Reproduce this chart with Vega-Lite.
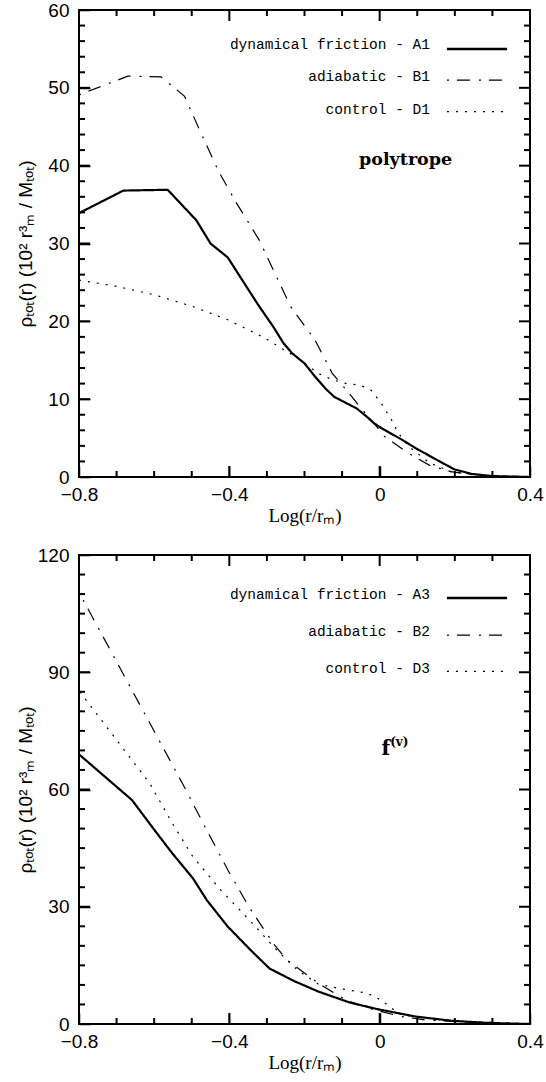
{
  "$schema": "https://vega.github.io/schema/vega-lite/v6.json",
  "background": "white",
  "padding": {"left": 15, "top": 0, "right": 0, "bottom": 0},
  "bounds": "flush",
  "spacing": 78,
  "config": {
    "view": {"stroke": "black", "strokeWidth": 2},
    "axis": {"labelFont": "Liberation Sans", "labelFontSize": 19, "labelColor": "black", "titleColor": "black", "domain": false, "grid": false, "ticks": true, "tickColor": "#000000", "tickOpacity": 1, "tickWidth": 1.5, "labelFlush": false, "labelOverlap": false},
    "text": {"color": "black"}
  },
  "datasets": {
    "xmajor": [{"v": -0.8}, {"v": -0.4}, {"v": 0}, {"v": 0.4}],
    "xminor": [{"v": -0.7}, {"v": -0.6}, {"v": -0.5}, {"v": -0.3}, {"v": -0.2}, {"v": -0.1}, {"v": 0.1}, {"v": 0.2}, {"v": 0.3}],
    "ymajor60": [{"v": 10}, {"v": 20}, {"v": 30}, {"v": 40}, {"v": 50}],
    "yminor60": [{"v": 2}, {"v": 4}, {"v": 6}, {"v": 8}, {"v": 12}, {"v": 14}, {"v": 16}, {"v": 18}, {"v": 22}, {"v": 24}, {"v": 26}, {"v": 28}, {"v": 32}, {"v": 34}, {"v": 36}, {"v": 38}, {"v": 42}, {"v": 44}, {"v": 46}, {"v": 48}, {"v": 52}, {"v": 54}, {"v": 56}, {"v": 58}],
    "ymajor120": [{"v": 30}, {"v": 60}, {"v": 90}],
    "yminor120": [{"v": 5}, {"v": 10}, {"v": 15}, {"v": 20}, {"v": 25}, {"v": 35}, {"v": 40}, {"v": 45}, {"v": 50}, {"v": 55}, {"v": 65}, {"v": 70}, {"v": 75}, {"v": 80}, {"v": 85}, {"v": 95}, {"v": 100}, {"v": 105}, {"v": 110}, {"v": 115}],
    "top": [
      {"logr": -0.8, "rho": 33.9, "run": "dynamical friction - A1"},
      {"logr": -0.682, "rho": 36.8, "run": "dynamical friction - A1"},
      {"logr": -0.564, "rho": 36.9, "run": "dynamical friction - A1"},
      {"logr": -0.488, "rho": 33.0, "run": "dynamical friction - A1"},
      {"logr": -0.45, "rho": 30.0, "run": "dynamical friction - A1"},
      {"logr": -0.404, "rho": 28.2, "run": "dynamical friction - A1"},
      {"logr": -0.367, "rho": 25.4, "run": "dynamical friction - A1"},
      {"logr": -0.323, "rho": 22.1, "run": "dynamical friction - A1"},
      {"logr": -0.283, "rho": 19.3, "run": "dynamical friction - A1"},
      {"logr": -0.256, "rho": 17.2, "run": "dynamical friction - A1"},
      {"logr": -0.233, "rho": 15.9, "run": "dynamical friction - A1"},
      {"logr": -0.2, "rho": 14.6, "run": "dynamical friction - A1"},
      {"logr": -0.172, "rho": 12.9, "run": "dynamical friction - A1"},
      {"logr": -0.145, "rho": 11.4, "run": "dynamical friction - A1"},
      {"logr": -0.121, "rho": 10.3, "run": "dynamical friction - A1"},
      {"logr": -0.089, "rho": 9.5, "run": "dynamical friction - A1"},
      {"logr": -0.061, "rho": 8.8, "run": "dynamical friction - A1"},
      {"logr": -0.033, "rho": 7.7, "run": "dynamical friction - A1"},
      {"logr": -0.015, "rho": 6.9, "run": "dynamical friction - A1"},
      {"logr": 0.004, "rho": 6.3, "run": "dynamical friction - A1"},
      {"logr": 0.059, "rho": 4.8, "run": "dynamical friction - A1"},
      {"logr": 0.096, "rho": 3.7, "run": "dynamical friction - A1"},
      {"logr": 0.152, "rho": 2.2, "run": "dynamical friction - A1"},
      {"logr": 0.198, "rho": 1.0, "run": "dynamical friction - A1"},
      {"logr": 0.244, "rho": 0.4, "run": "dynamical friction - A1"},
      {"logr": 0.3, "rho": 0.12, "run": "dynamical friction - A1"},
      {"logr": 0.4, "rho": 0.0, "run": "dynamical friction - A1"},
      {"logr": -0.8, "rho": 49.1, "run": "adiabatic - B1"},
      {"logr": -0.67, "rho": 51.5, "run": "adiabatic - B1"},
      {"logr": -0.581, "rho": 51.4, "run": "adiabatic - B1"},
      {"logr": -0.519, "rho": 48.9, "run": "adiabatic - B1"},
      {"logr": -0.483, "rho": 45.0, "run": "adiabatic - B1"},
      {"logr": -0.43, "rho": 39.4, "run": "adiabatic - B1"},
      {"logr": -0.386, "rho": 35.6, "run": "adiabatic - B1"},
      {"logr": -0.32, "rho": 30.4, "run": "adiabatic - B1"},
      {"logr": -0.237, "rho": 21.9, "run": "adiabatic - B1"},
      {"logr": -0.172, "rho": 17.6, "run": "adiabatic - B1"},
      {"logr": -0.126, "rho": 13.3, "run": "adiabatic - B1"},
      {"logr": -0.089, "rho": 11.2, "run": "adiabatic - B1"},
      {"logr": -0.052, "rho": 9.0, "run": "adiabatic - B1"},
      {"logr": -0.015, "rho": 6.9, "run": "adiabatic - B1"},
      {"logr": 0.013, "rho": 5.2, "run": "adiabatic - B1"},
      {"logr": 0.078, "rho": 3.0, "run": "adiabatic - B1"},
      {"logr": 0.133, "rho": 1.5, "run": "adiabatic - B1"},
      {"logr": 0.189, "rho": 0.7, "run": "adiabatic - B1"},
      {"logr": 0.26, "rho": 0.2, "run": "adiabatic - B1"},
      {"logr": 0.4, "rho": 0.0, "run": "adiabatic - B1"},
      {"logr": -0.8, "rho": 25.3, "run": "control - D1"},
      {"logr": -0.7, "rho": 24.5, "run": "control - D1"},
      {"logr": -0.599, "rho": 23.4, "run": "control - D1"},
      {"logr": -0.497, "rho": 21.9, "run": "control - D1"},
      {"logr": -0.404, "rho": 20.2, "run": "control - D1"},
      {"logr": -0.311, "rho": 18.0, "run": "control - D1"},
      {"logr": -0.219, "rho": 15.3, "run": "control - D1"},
      {"logr": -0.163, "rho": 13.3, "run": "control - D1"},
      {"logr": -0.126, "rho": 12.5, "run": "control - D1"},
      {"logr": -0.089, "rho": 12.0, "run": "control - D1"},
      {"logr": -0.052, "rho": 11.8, "run": "control - D1"},
      {"logr": -0.024, "rho": 11.2, "run": "control - D1"},
      {"logr": 0.004, "rho": 9.5, "run": "control - D1"},
      {"logr": 0.032, "rho": 7.3, "run": "control - D1"},
      {"logr": 0.05, "rho": 5.6, "run": "control - D1"},
      {"logr": 0.078, "rho": 3.9, "run": "control - D1"},
      {"logr": 0.133, "rho": 1.8, "run": "control - D1"},
      {"logr": 0.189, "rho": 0.7, "run": "control - D1"},
      {"logr": 0.282, "rho": 0.15, "run": "control - D1"},
      {"logr": 0.4, "rho": 0.0, "run": "control - D1"}
    ],
    "bottom": [
      {"logr": -0.8, "rho": 69.0, "run": "dynamical friction - A3"},
      {"logr": -0.659, "rho": 57.3, "run": "dynamical friction - A3"},
      {"logr": -0.599, "rho": 49.6, "run": "dynamical friction - A3"},
      {"logr": -0.552, "rho": 43.7, "run": "dynamical friction - A3"},
      {"logr": -0.497, "rho": 37.3, "run": "dynamical friction - A3"},
      {"logr": -0.46, "rho": 31.7, "run": "dynamical friction - A3"},
      {"logr": -0.404, "rho": 24.9, "run": "dynamical friction - A3"},
      {"logr": -0.339, "rho": 18.5, "run": "dynamical friction - A3"},
      {"logr": -0.293, "rho": 14.2, "run": "dynamical friction - A3"},
      {"logr": -0.228, "rho": 11.0, "run": "dynamical friction - A3"},
      {"logr": -0.163, "rho": 8.3, "run": "dynamical friction - A3"},
      {"logr": -0.08, "rho": 5.5, "run": "dynamical friction - A3"},
      {"logr": -0.006, "rho": 3.8, "run": "dynamical friction - A3"},
      {"logr": 0.096, "rho": 1.9, "run": "dynamical friction - A3"},
      {"logr": 0.189, "rho": 0.85, "run": "dynamical friction - A3"},
      {"logr": 0.282, "rho": 0.3, "run": "dynamical friction - A3"},
      {"logr": 0.4, "rho": 0.0, "run": "dynamical friction - A3"},
      {"logr": -0.789, "rho": 108.5, "run": "adiabatic - B2"},
      {"logr": -0.525, "rho": 61.6, "run": "adiabatic - B2"},
      {"logr": -0.46, "rho": 49.6, "run": "adiabatic - B2"},
      {"logr": -0.404, "rho": 39.4, "run": "adiabatic - B2"},
      {"logr": -0.348, "rho": 30.0, "run": "adiabatic - B2"},
      {"logr": -0.283, "rho": 20.6, "run": "adiabatic - B2"},
      {"logr": -0.247, "rho": 16.4, "run": "adiabatic - B2"},
      {"logr": -0.163, "rho": 10.4, "run": "adiabatic - B2"},
      {"logr": -0.089, "rho": 6.1, "run": "adiabatic - B2"},
      {"logr": -0.015, "rho": 3.6, "run": "adiabatic - B2"},
      {"logr": 0.059, "rho": 1.9, "run": "adiabatic - B2"},
      {"logr": 0.124, "rho": 1.0, "run": "adiabatic - B2"},
      {"logr": 0.282, "rho": 0.25, "run": "adiabatic - B2"},
      {"logr": 0.4, "rho": 0.0, "run": "adiabatic - B2"},
      {"logr": -0.798, "rho": 85.0, "run": "control - D3"},
      {"logr": -0.612, "rho": 61.6, "run": "control - D3"},
      {"logr": -0.552, "rho": 51.4, "run": "control - D3"},
      {"logr": -0.497, "rho": 42.8, "run": "control - D3"},
      {"logr": -0.423, "rho": 34.3, "run": "control - D3"},
      {"logr": -0.339, "rho": 25.8, "run": "control - D3"},
      {"logr": -0.274, "rho": 18.9, "run": "control - D3"},
      {"logr": -0.219, "rho": 13.8, "run": "control - D3"},
      {"logr": -0.163, "rho": 10.2, "run": "control - D3"},
      {"logr": -0.108, "rho": 9.1, "run": "control - D3"},
      {"logr": -0.033, "rho": 7.9, "run": "control - D3"},
      {"logr": 0.004, "rho": 6.1, "run": "control - D3"},
      {"logr": 0.05, "rho": 2.7, "run": "control - D3"},
      {"logr": 0.096, "rho": 1.7, "run": "control - D3"},
      {"logr": 0.189, "rho": 0.85, "run": "control - D3"},
      {"logr": 0.4, "rho": 0.0, "run": "control - D3"}
    ]
  },
  "vconcat": [
    {
      "width": 451,
      "height": 467,
      "resolve": {"axis": {"x": "independent", "y": "independent"}},
      "layer": [
        {
          "data": {"name": "top"},
          "mark": {"type": "line", "color": "black", "clip": true, "strokeCap": "butt"},
          "encoding": {
            "x": {"field": "logr", "type": "quantitative", "scale": {"domain": [-0.8, 0.4], "nice": false, "zero": false},
              "axis": {"orient": "bottom", "offset": -11, "tickSize": 11, "values": [-0.8, -0.4, 0, 0.4],
                "title": "Log(r/rₘ)", "titleFont": "Liberation Serif", "titleFontSize": 19, "titleFontWeight": "normal", "titlePadding": 2,
                "labelPadding": 8,
                "labelExpr": "datum.value === 0 ? '0' : datum.label"}},
            "y": {"field": "rho", "type": "quantitative", "scale": {"domain": [0, 60], "nice": false},
              "axis": {"orient": "left", "offset": -11, "tickSize": 11, "values": [0, 10, 20, 30, 40, 50, 60],
                "title": "ρₜₒₜ(r)  (10²  r³ₘ  /  Mₜₒₜ)", "titleFont": "Liberation Sans", "titleFontSize": 19, "titleFontWeight": "normal", "titleX": -55,
                "labelPadding": 10}},
            "strokeDash": {"field": "run", "type": "nominal",
              "scale": {"domain": ["dynamical friction - A1", "adiabatic - B1", "control - D1"], "range": [[1, 0], [2, 8, 13, 9], [2, 7]]},
              "legend": null},
            "strokeWidth": {"condition": {"test": "datum.run === 'dynamical friction - A1'", "value": 2.2}, "value": 1.2}
          }
        },
        {
          "data": {"values": [{"note": "polytrope"}]},
          "mark": {"type": "text", "font": "DejaVu Serif", "fontWeight": "bold", "fontSize": 17.5, "align": "center", "baseline": "middle"},
          "encoding": {
            "text": {"field": "note"},
            "x": {"datum": 0.069, "type": "quantitative", "axis": null},
            "y": {"datum": 40.7, "type": "quantitative", "axis": null}
          }
        },
        {"data": {"name": "xmajor"}, "mark": {"type": "rule", "color": "black", "strokeWidth": 2},
          "encoding": {"x": {"field": "v", "type": "quantitative", "axis": null}, "y": {"datum": 0, "type": "quantitative", "axis": null}, "y2": {"datum": 1.413}}},
        {"data": {"name": "xmajor"}, "mark": {"type": "rule", "color": "black", "strokeWidth": 2},
          "encoding": {"x": {"field": "v", "type": "quantitative", "axis": null}, "y": {"datum": 60, "type": "quantitative", "axis": null}, "y2": {"datum": 58.587}}},
        {"data": {"name": "xminor"}, "mark": {"type": "rule", "color": "black", "strokeWidth": 2},
          "encoding": {"x": {"field": "v", "type": "quantitative", "axis": null}, "y": {"datum": 0, "type": "quantitative", "axis": null}, "y2": {"datum": 0.771}}},
        {"data": {"name": "xminor"}, "mark": {"type": "rule", "color": "black", "strokeWidth": 2},
          "encoding": {"x": {"field": "v", "type": "quantitative", "axis": null}, "y": {"datum": 60, "type": "quantitative", "axis": null}, "y2": {"datum": 59.229}}},
        {"data": {"name": "ymajor60"}, "mark": {"type": "rule", "color": "black", "strokeWidth": 2},
          "encoding": {"y": {"field": "v", "type": "quantitative", "axis": null}, "x": {"datum": -0.8, "type": "quantitative", "axis": null}, "x2": {"datum": -0.7707}}},
        {"data": {"name": "ymajor60"}, "mark": {"type": "rule", "color": "black", "strokeWidth": 2},
          "encoding": {"y": {"field": "v", "type": "quantitative", "axis": null}, "x": {"datum": 0.4, "type": "quantitative", "axis": null}, "x2": {"datum": 0.3707}}},
        {"data": {"name": "yminor60"}, "mark": {"type": "rule", "color": "black", "strokeWidth": 2},
          "encoding": {"y": {"field": "v", "type": "quantitative", "axis": null}, "x": {"datum": -0.8, "type": "quantitative", "axis": null}, "x2": {"datum": -0.784}}},
        {"data": {"name": "yminor60"}, "mark": {"type": "rule", "color": "black", "strokeWidth": 2},
          "encoding": {"y": {"field": "v", "type": "quantitative", "axis": null}, "x": {"datum": 0.4, "type": "quantitative", "axis": null}, "x2": {"datum": 0.384}}},
        {
          "data": {"values": [{"run": "dynamical friction - A1"}]},
          "mark": {"type": "rule", "color": "black", "strokeWidth": 2.4, "strokeCap": "butt"},
          "encoding": {
            "x": {"datum": 0.179, "type": "quantitative", "axis": null},
            "x2": {"datum": 0.339},
            "y": {"datum": 54.99, "type": "quantitative", "axis": null},
            "strokeDash": {"field": "run", "type": "nominal", "legend": null}
          }
        },
        {
          "data": {"values": [{"run": "adiabatic - B1"}]},
          "mark": {"type": "rule", "color": "black", "strokeWidth": 1.2, "strokeCap": "butt"},
          "encoding": {
            "x": {"datum": 0.179, "type": "quantitative", "axis": null},
            "x2": {"datum": 0.339},
            "y": {"datum": 51.0, "type": "quantitative", "axis": null},
            "strokeDash": {"field": "run", "type": "nominal", "legend": null}
          }
        },
        {
          "data": {"values": [{"run": "control - D1"}]},
          "mark": {"type": "rule", "color": "black", "strokeWidth": 1.2, "strokeCap": "butt"},
          "encoding": {
            "x": {"datum": 0.179, "type": "quantitative", "axis": null},
            "x2": {"datum": 0.339},
            "y": {"datum": 46.94, "type": "quantitative", "axis": null},
            "strokeDash": {"field": "run", "type": "nominal", "legend": null}
          }
        },
        {
          "data": {"values": [{"run": "dynamical friction - A1"}]},
          "mark": {"type": "text", "font": "Liberation Mono", "fontSize": 14.5, "align": "right", "baseline": "alphabetic"},
          "encoding": {
            "text": {"field": "run"},
            "x": {"datum": 0.134, "type": "quantitative", "axis": null},
            "y": {"datum": 54.95, "type": "quantitative", "axis": null}
          }
        },
        {
          "data": {"values": [{"run": "adiabatic - B1"}]},
          "mark": {"type": "text", "font": "Liberation Mono", "fontSize": 14.5, "align": "right", "baseline": "alphabetic"},
          "encoding": {
            "text": {"field": "run"},
            "x": {"datum": 0.134, "type": "quantitative", "axis": null},
            "y": {"datum": 50.92, "type": "quantitative", "axis": null}
          }
        },
        {
          "data": {"values": [{"run": "control - D1"}]},
          "mark": {"type": "text", "font": "Liberation Mono", "fontSize": 14.5, "align": "right", "baseline": "alphabetic"},
          "encoding": {
            "text": {"field": "run"},
            "x": {"datum": 0.134, "type": "quantitative", "axis": null},
            "y": {"datum": 46.64, "type": "quantitative", "axis": null}
          }
        }
      ]
    },
    {
      "width": 451,
      "height": 469,
      "resolve": {"axis": {"x": "independent", "y": "independent"}},
      "layer": [
        {
          "data": {"name": "bottom"},
          "mark": {"type": "line", "color": "black", "clip": true, "strokeCap": "butt"},
          "encoding": {
            "x": {"field": "logr", "type": "quantitative", "scale": {"domain": [-0.8, 0.4], "nice": false, "zero": false},
              "axis": {"orient": "bottom", "offset": -11, "tickSize": 11, "values": [-0.8, -0.4, 0, 0.4],
                "title": "Log(r/rₘ)", "titleFont": "Liberation Serif", "titleFontSize": 19, "titleFontWeight": "normal", "titlePadding": 2,
                "labelPadding": 8,
                "labelExpr": "datum.value === 0 ? '0' : datum.label"}},
            "y": {"field": "rho", "type": "quantitative", "scale": {"domain": [0, 120], "nice": false},
              "axis": {"orient": "left", "offset": -11, "tickSize": 11, "values": [0, 30, 60, 90, 120],
                "title": "ρₜₒₜ(r)  (10²  r³ₘ  /  Mₜₒₜ)", "titleFont": "Liberation Sans", "titleFontSize": 19, "titleFontWeight": "normal", "titleX": -55,
                "labelPadding": 10}},
            "strokeDash": {"field": "run", "type": "nominal",
              "scale": {"domain": ["dynamical friction - A3", "adiabatic - B2", "control - D3"], "range": [[1, 0], [2, 8, 13, 9], [2, 7]]},
              "legend": null},
            "strokeWidth": {"condition": {"test": "datum.run === 'dynamical friction - A3'", "value": 2.2}, "value": 1.2}
          }
        },
        {
          "data": {"values": [{"note": "f"}]},
          "mark": {"type": "text", "font": "DejaVu Serif", "fontWeight": "bold", "fontSize": 20, "align": "center", "baseline": "alphabetic"},
          "encoding": {
            "text": {"field": "note"},
            "x": {"datum": 0.016, "type": "quantitative", "axis": null},
            "y": {"datum": 68.8, "type": "quantitative", "axis": null}
          }
        },
        {
          "data": {"values": [{"note": "(v)"}]},
          "mark": {"type": "text", "font": "DejaVu Serif", "fontWeight": "bold", "fontSize": 12, "align": "left", "baseline": "alphabetic"},
          "encoding": {
            "text": {"field": "note"},
            "x": {"datum": 0.028, "type": "quantitative", "axis": null},
            "y": {"datum": 71.1, "type": "quantitative", "axis": null}
          }
        },
        {"data": {"name": "xmajor"}, "mark": {"type": "rule", "color": "black", "strokeWidth": 2},
          "encoding": {"x": {"field": "v", "type": "quantitative", "axis": null}, "y": {"datum": 0, "type": "quantitative", "axis": null}, "y2": {"datum": 2.815}}},
        {"data": {"name": "xmajor"}, "mark": {"type": "rule", "color": "black", "strokeWidth": 2},
          "encoding": {"x": {"field": "v", "type": "quantitative", "axis": null}, "y": {"datum": 120, "type": "quantitative", "axis": null}, "y2": {"datum": 117.185}}},
        {"data": {"name": "xminor"}, "mark": {"type": "rule", "color": "black", "strokeWidth": 2},
          "encoding": {"x": {"field": "v", "type": "quantitative", "axis": null}, "y": {"datum": 0, "type": "quantitative", "axis": null}, "y2": {"datum": 1.535}}},
        {"data": {"name": "xminor"}, "mark": {"type": "rule", "color": "black", "strokeWidth": 2},
          "encoding": {"x": {"field": "v", "type": "quantitative", "axis": null}, "y": {"datum": 120, "type": "quantitative", "axis": null}, "y2": {"datum": 118.465}}},
        {"data": {"name": "ymajor120"}, "mark": {"type": "rule", "color": "black", "strokeWidth": 2},
          "encoding": {"y": {"field": "v", "type": "quantitative", "axis": null}, "x": {"datum": -0.8, "type": "quantitative", "axis": null}, "x2": {"datum": -0.7707}}},
        {"data": {"name": "ymajor120"}, "mark": {"type": "rule", "color": "black", "strokeWidth": 2},
          "encoding": {"y": {"field": "v", "type": "quantitative", "axis": null}, "x": {"datum": 0.4, "type": "quantitative", "axis": null}, "x2": {"datum": 0.3707}}},
        {"data": {"name": "yminor120"}, "mark": {"type": "rule", "color": "black", "strokeWidth": 2},
          "encoding": {"y": {"field": "v", "type": "quantitative", "axis": null}, "x": {"datum": -0.8, "type": "quantitative", "axis": null}, "x2": {"datum": -0.784}}},
        {"data": {"name": "yminor120"}, "mark": {"type": "rule", "color": "black", "strokeWidth": 2},
          "encoding": {"y": {"field": "v", "type": "quantitative", "axis": null}, "x": {"datum": 0.4, "type": "quantitative", "axis": null}, "x2": {"datum": 0.384}}},
        {
          "data": {"values": [{"run": "dynamical friction - A3"}]},
          "mark": {"type": "rule", "color": "black", "strokeWidth": 2.4, "strokeCap": "butt"},
          "encoding": {
            "x": {"datum": 0.179, "type": "quantitative", "axis": null},
            "x2": {"datum": 0.339},
            "y": {"datum": 109.0, "type": "quantitative", "axis": null},
            "strokeDash": {"field": "run", "type": "nominal", "legend": null}
          }
        },
        {
          "data": {"values": [{"run": "adiabatic - B2"}]},
          "mark": {"type": "rule", "color": "black", "strokeWidth": 1.2, "strokeCap": "butt"},
          "encoding": {
            "x": {"datum": 0.179, "type": "quantitative", "axis": null},
            "x2": {"datum": 0.339},
            "y": {"datum": 99.5, "type": "quantitative", "axis": null},
            "strokeDash": {"field": "run", "type": "nominal", "legend": null}
          }
        },
        {
          "data": {"values": [{"run": "control - D3"}]},
          "mark": {"type": "rule", "color": "black", "strokeWidth": 1.2, "strokeCap": "butt"},
          "encoding": {
            "x": {"datum": 0.179, "type": "quantitative", "axis": null},
            "x2": {"datum": 0.339},
            "y": {"datum": 90.2, "type": "quantitative", "axis": null},
            "strokeDash": {"field": "run", "type": "nominal", "legend": null}
          }
        },
        {
          "data": {"values": [{"run": "dynamical friction - A3"}]},
          "mark": {"type": "text", "font": "Liberation Mono", "fontSize": 14.5, "align": "right", "baseline": "alphabetic"},
          "encoding": {
            "text": {"field": "run"},
            "x": {"datum": 0.134, "type": "quantitative", "axis": null},
            "y": {"datum": 108.75, "type": "quantitative", "axis": null}
          }
        },
        {
          "data": {"values": [{"run": "adiabatic - B2"}]},
          "mark": {"type": "text", "font": "Liberation Mono", "fontSize": 14.5, "align": "right", "baseline": "alphabetic"},
          "encoding": {
            "text": {"field": "run"},
            "x": {"datum": 0.134, "type": "quantitative", "axis": null},
            "y": {"datum": 99.16, "type": "quantitative", "axis": null}
          }
        },
        {
          "data": {"values": [{"run": "control - D3"}]},
          "mark": {"type": "text", "font": "Liberation Mono", "fontSize": 14.5, "align": "right", "baseline": "alphabetic"},
          "encoding": {
            "text": {"field": "run"},
            "x": {"datum": 0.134, "type": "quantitative", "axis": null},
            "y": {"datum": 89.69, "type": "quantitative", "axis": null}
          }
        }
      ]
    }
  ]
}
